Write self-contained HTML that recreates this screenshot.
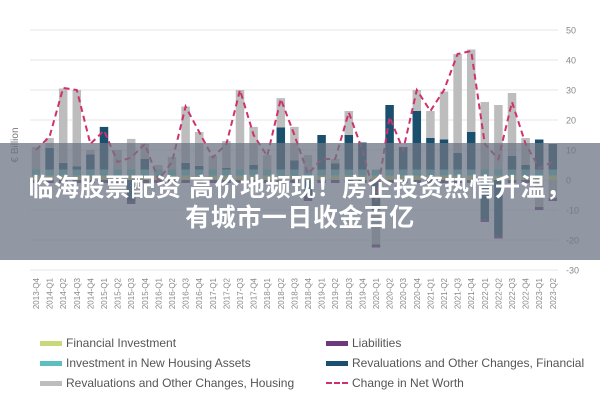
<!DOCTYPE html>
<html><head><meta charset="utf-8"><style>
body{margin:0;width:600px;height:400px;background:#fff;overflow:hidden;font-family:"Liberation Sans",sans-serif;position:relative}
#banner{position:absolute;left:0;top:143px;width:600px;height:117px;background:rgba(110,118,132,0.75)}
.bt{position:absolute;left:0;width:600px;text-align:center;color:#fff;font-weight:bold;font-size:25px;font-family:"Liberation Sans","Noto Sans CJK SC",sans-serif;letter-spacing:0.5px;line-height:30px}
.leg{position:absolute;font-size:12px;color:#555;display:flex;align-items:center;height:14px}
.sw{width:22px;height:5px;margin-right:4px}
</style></head><body>
<svg id="chart" width="600" height="400" style="position:absolute;left:0;top:0"></svg>
<div id="banner">
<div class="bt" style="top:30px">临海股票配资 高价地频现！房企投资热情升温，</div>
<div class="bt" style="top:60px">有城市一日收金百亿</div>
</div>
<div class="leg" style="left:40px;top:336px"><span class="sw" style="background:#c8d97a"></span>Financial Investment</div>
<div class="leg" style="left:40px;top:356px"><span class="sw" style="background:#5bbfbf"></span>Investment in New Housing Assets</div>
<div class="leg" style="left:40px;top:376px"><span class="sw" style="background:#bdbdbd"></span>Revaluations and Other Changes, Housing</div>
<div class="leg" style="left:326px;top:336px"><span class="sw" style="background:#6b3a7d"></span>Liabilities</div>
<div class="leg" style="left:326px;top:356px"><span class="sw" style="background:#1a4f6e"></span>Revaluations and Other Changes, Financial</div>
<div class="leg" style="left:326px;top:376px"><span style="width:22px;margin-right:4px;border-top:2px dashed #d0306e"></span>Change in Net Worth</div>
<script>
const categories=["2013-Q4","2014-Q1","2014-Q2","2014-Q3","2014-Q4","2015-Q1","2015-Q2","2015-Q3","2015-Q4","2016-Q1","2016-Q2","2016-Q3","2016-Q4","2017-Q1","2017-Q2","2017-Q3","2017-Q4","2018-Q1","2018-Q2","2018-Q3","2018-Q4","2019-Q1","2019-Q2","2019-Q3","2019-Q4","2020-Q1","2020-Q2","2020-Q3","2020-Q4","2021-Q1","2021-Q2","2021-Q3","2021-Q4","2022-Q1","2022-Q2","2022-Q3","2022-Q4","2023-Q1","2023-Q2"];
const finInv=[1.5,1.5,1.5,1.5,1.5,1.5,1.5,1.5,1.5,1.5,1.5,1.5,1.5,1.5,1.5,1.5,1.5,1.5,1.5,1.5,1.5,1.5,1.5,1.5,1.5,1.5,1.5,1.5,1.5,1.5,1.5,1.5,1.5,1.5,1.5,1.5,1.5,1.5,1.5];
const housingInv=[2,2,2,2,2,2,2,2,2,2,2,2,2,2,2,2,2,2,2,2,2,2,2,2,2,2,2,2,2,2,2,2,2,2,2,2,2,2,2];
const finReval=[0,7.2,2.2,1,5,14.2,0,-7,3.5,0,0,2.2,1.2,0,0.5,0,1.5,0,14,3,-6,11.5,2,11.5,9,-10,21.5,7.5,19.5,10.5,10,5.5,12.5,-13,-18.5,4.5,1.5,10,8.5];
const housingReval=[7.5,3.3,24.8,25.5,1.5,0,6.5,10.2,5,1.5,4.2,18.8,11.3,4.5,9,26.5,12.7,4.8,9.8,11.2,4.8,0,1.5,8,0,-11.5,0,0,7,9,16,33,27.5,22.5,21.5,21,9,-9,-6];
const liabilities=[-1,-1,-1,-1,-1,-1,-1,-1,-1,-1,-1,-1,-1,-1,-1,-1,-1,-1,-1,-1,-1,-1,-1,-1,-1,-1,-1,-1,-1,-1,-1,-1,-1,-1,-1,-1,-1,-1,-1];
const netWorth=[10,14.5,30.7,30,12,16.5,6,7.5,12,0,6,24.5,16,7.5,12,30,15,8,27,15,2,7,7,22.5,10,-7,21,10,30,23,30,42,43,12,7,26,12,4,6];
const yTicks=[50,40,30,20,10,0,-10,-20,-30];
const NS="http://www.w3.org/2000/svg";
const svg=document.getElementById('chart');
const x0=36,dx=13.6,bw=8.5;
function xs(i){return x0+dx*i;}
function ys(v){return 180-v*3;}
function mk(t,a){const e=document.createElementNS(NS,t);for(const k in a)e.setAttribute(k,a[k]);svg.appendChild(e);return e;}
yTicks.forEach(v=>{
 const l=mk('line',{x1:30,x2:558,y1:ys(v),y2:ys(v),stroke:'#e4e4e4','stroke-width':1});
 
 
 const t=mk('text',{x:566,y:ys(v)+3.5,'font-size':9,fill:'#888'});t.textContent=v;
 
 
});
const yt=mk('text',{x:18,y:145,'font-size':10,fill:'#777',transform:'rotate(-90 18 145)','text-anchor':'middle'});yt.textContent='€ Billion';


const series=[[finInv,'#c8d97a','bar-financial-investment'],[housingInv,'#5bbfbf','bar-investment-housing'],[finReval,'#1a4f6e','bar-revaluation-financial'],[housingReval,'#bdbdbd','bar-revaluation-housing'],[liabilities,'#6b3a7d','bar-liabilities']];
categories.forEach((c,i)=>{
 let pos=0,neg=0;
 series.forEach(([arr,col,name])=>{
  const v=arr[i];if(!v)return;
  let a,b;
  if(v>0){a=pos;b=pos+v;pos=b;}else{a=neg;b=neg+v;neg=b;}
  const r=mk('rect',{x:xs(i)-bw/2,y:Math.min(ys(a),ys(b)),width:bw,height:Math.abs(ys(a)-ys(b)),fill:col});
  
  
 });
 const t=mk('text',{x:0,y:0,'font-size':8,fill:'#888','text-anchor':'end',transform:`translate(${xs(i)+3},278) rotate(-90)`});t.textContent=c;
 
 
});
const p=mk('polyline',{points:netWorth.map((v,i)=>xs(i)+','+ys(v)).join(' '),fill:'none',stroke:'#d0306e','stroke-width':2,'stroke-dasharray':'6,4'});


</script>
</body></html>
